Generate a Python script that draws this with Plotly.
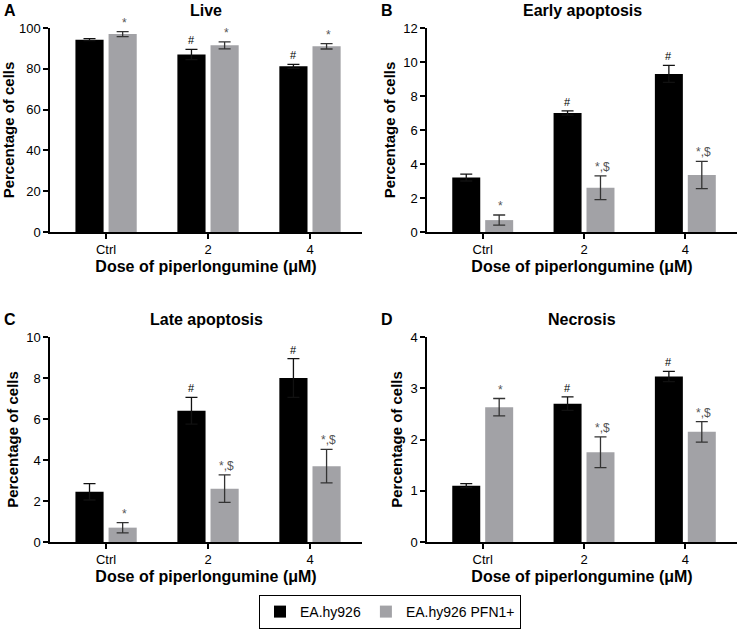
import plotly.graph_objects as go

categories = ["Ctrl", "2", "4"]
panel_titles = ["Live", "Early apoptosis", "Late apoptosis", "Necrosis"]
panel_letters = ["A", "B", "C", "D"]
series_names = ["EA.hy926", "EA.hy926 PFN1+"]

# values per panel
wt_vals = [[94.3, 87.0, 81.2], [3.2, 7.0, 9.3], [2.45, 6.4, 8.0], [1.1, 2.7, 3.23]]
wt_err = [[0.5, 2.5, 1.0], [0.2, 0.12, 0.5], [0.4, 0.65, 0.95], [0.04, 0.13, 0.1]]
pf_vals = [[97.0, 91.5, 91.0], [0.7, 2.6, 3.35], [0.7, 2.6, 3.7], [2.63, 1.75, 2.15]]
pf_err = [[1.2, 1.7, 1.3], [0.3, 0.7, 0.8], [0.25, 0.67, 0.82], [0.17, 0.3, 0.2]]
wt_marks = [["", "#", "#"], ["", "#", "#"], ["", "#", "#"], ["", "#", "#"]]
pf_marks = [["*", "*", "*"], ["*", "*,$", "*,$"], ["*", "*,$", "*,$"], ["*", "*,$", "*,$"]]
y_max = [100, 12, 10, 4]
y_dtick = [20, 2, 2, 1]

W, H = 740, 629
# pixel boxes: (x0, x1, ytop, ybottom)
boxes = [(50, 362, 28, 232), (427, 737, 28, 232), (50, 362, 337, 542), (427, 737, 337, 542)]

BLACK = "#000000"
GRAY = "#a2a2a6"
FONT = "Arial, Liberation Sans, sans-serif"

fig = go.Figure()
layout = dict(
    width=W, height=H, margin=dict(l=0, r=0, t=0, b=0, autoexpand=False),
    paper_bgcolor="white", plot_bgcolor="white",
    barmode="group", bargap=0.35, bargroupgap=0.15,
    font=dict(family=FONT, color="black", size=12),
    showlegend=True,
    legend=dict(orientation="h", x=0.527, xanchor="center", y=0.0, yanchor="bottom",
                bordercolor="black", borderwidth=1, font=dict(size=14),
                itemwidth=30, traceorder="normal", tracegroupgap=0),
)
annotations = []

for i in range(4):
    x0, x1, yt, yb = boxes[i]
    sfx = "" if i == 0 else str(i + 1)
    xa, ya = "x" + sfx, "y" + sfx
    fig.add_trace(go.Bar(x=categories, y=wt_vals[i], name=series_names[0], marker_color=BLACK,
                         marker_line_width=0, xaxis=xa, yaxis=ya, showlegend=(i == 0),
                         legendgroup="a",
                         error_y=dict(type="data", array=wt_err[i], color="#111111",
                                      thickness=1.3, width=6)))
    fig.add_trace(go.Bar(x=categories, y=pf_vals[i], name=series_names[1], marker_color=GRAY,
                         marker_line_width=0, xaxis=xa, yaxis=ya, showlegend=(i == 0),
                         legendgroup="b",
                         error_y=dict(type="data", array=pf_err[i], color="#333333",
                                      thickness=1.3, width=6)))
    axis_common = dict(showline=True, linecolor="black", linewidth=1.5, ticks="outside",
                       ticklen=5, tickwidth=1.5, tickcolor="black", showgrid=False,
                       zeroline=False, tickfont=dict(size=13, family=FONT))
    layout["xaxis" + sfx] = dict(domain=[x0 / W, x1 / W], anchor=ya, range=[-0.55, 2.51],
                                 type="category",
                                 title=dict(text="<b>Dose of piperlongumine (μM)</b>",
                                            font=dict(size=16, family=FONT), standoff=4),
                                 **axis_common)
    layout["yaxis" + sfx] = dict(domain=[1 - yb / H, 1 - yt / H], anchor=xa,
                                 range=[0, y_max[i]], dtick=y_dtick[i],
                                 title=dict(text="<b>Percentage of cells</b>",
                                            font=dict(size=15, family=FONT), standoff=4),
                                 **axis_common)
    # panel title
    annotations.append(dict(text="<b>" + panel_titles[i] + "</b>", xref="x" + sfx + " domain",
                            yref="paper", x=0.5, y=1 - (yt - 18) / H, showarrow=False,
                            font=dict(size=16, family=FONT), xanchor="center", yanchor="middle"))
    annotations.append(dict(text="<b>" + panel_letters[i] + "</b>", xref="paper", yref="paper",
                            x=(x0 - 48) / W, y=1 - (yt - 18) / H, showarrow=False,
                            font=dict(size=16, family=FONT), xanchor="left", yanchor="middle"))
    # significance marks
    for j in range(3):
        if wt_marks[i][j]:
            annotations.append(dict(text=wt_marks[i][j], xref=xa, yref=ya, x=j, xshift=-17,
                                    y=wt_vals[i][j] + wt_err[i][j], yshift=1, showarrow=False,
                                    yanchor="bottom", font=dict(size=11, color="black")))
        if pf_marks[i][j]:
            annotations.append(dict(text=pf_marks[i][j], xref=xa, yref=ya, x=j, xshift=18,
                                    y=pf_vals[i][j] + pf_err[i][j], yshift=0, showarrow=False,
                                    yanchor="bottom", font=dict(size=12, color="#555555")))

layout["annotations"] = annotations
fig.update_layout(**layout)
fig.write_html("out.html", config={"displayModeBar": False},
               post_script="document.body.style.margin='0';document.body.style.overflow='hidden';")
